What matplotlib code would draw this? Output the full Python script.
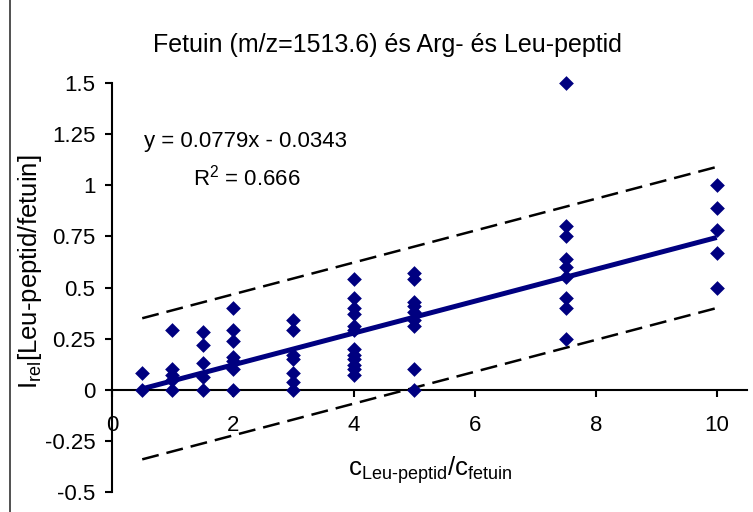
import numpy as np
import matplotlib
matplotlib.use('Agg')
import matplotlib.pyplot as plt
from matplotlib.patches import Rectangle

plt.rcParams['font.family'] = ['Liberation Sans', 'DejaVu Sans']
plt.rcParams['mathtext.fontset'] = 'custom'
plt.rcParams['mathtext.rm'] = 'Liberation Sans'
plt.rcParams['mathtext.it'] = 'Liberation Sans'

conc = [0.5, 1, 1.5, 2, 3, 4, 5, 7.5, 10]
irel = [
    [0.0, 0.08],
    [0.29, 0.10, 0.07, 0.05, 0.0],
    [0.28, 0.22, 0.13, 0.06, 0.0],
    [0.40, 0.29, 0.24, 0.16, 0.14, 0.10, 0.0],
    [0.34, 0.29, 0.17, 0.15, 0.08, 0.04, 0.0],
    [0.54, 0.45, 0.40, 0.37, 0.31, 0.29, 0.20, 0.17, 0.15, 0.12, 0.10, 0.07],
    [0.57, 0.54, 0.43, 0.41, 0.38, 0.34, 0.31, 0.10, 0.0],
    [1.5, 0.80, 0.75, 0.64, 0.60, 0.55, 0.45, 0.40, 0.25],
    [1.0, 0.89, 0.78, 0.67, 0.50],
]

slope = 0.0779
intercept = -0.0343
r2 = 0.666
band = 0.345   # half width of the dashed prediction band

xs = []
ys = []
for c, vals in zip(conc, irel):
    for v in vals:
        xs.append(c)
        ys.append(v)

fig = plt.figure(figsize=(7.53, 5.12), dpi=100)
ax = fig.add_axes([112/753, 1-492/512, (747-112)/753, (492-83)/512])

ax.scatter(xs, ys, marker='D', s=7.5**2, color='#000080', linewidths=0, zorder=3, clip_on=False)

fx = np.array([conc[0], conc[-1]])
fy = slope*fx + intercept
ax.plot(fx, fy, color='#000080', lw=3.6, zorder=2, solid_capstyle='butt')
ax.plot(fx, fy + band, color='black', lw=1.8, dashes=(6.8, 3.2), zorder=2)
ax.plot(fx, fy - band, color='black', lw=1.8, dashes=(6.8, 3.2), zorder=2)

ax.set_xlim(0, 10.5)
ax.set_ylim(-0.5, 1.5)
ax.set_xticks([0, 2, 4, 6, 8, 10])
ax.set_yticks([-0.5, -0.25, 0, 0.25, 0.5, 0.75, 1, 1.25, 1.5])
ax.set_yticklabels(['-0.5', '-0.25', '0', '0.25', '0.5', '0.75', '1', '1.25', '1.5'])

ax.spines['top'].set_visible(False)
ax.spines['right'].set_visible(False)
ax.spines['bottom'].set_position(('data', 0))
ax.spines['left'].set_linewidth(1.5)
ax.spines['bottom'].set_linewidth(1.5)
ax.tick_params(axis='y', direction='out', length=5, width=1.5, labelsize=16, pad=7)
ax.tick_params(axis='x', direction='out', length=5, width=1.5, labelsize=16, pad=13)
ax.patch.set_alpha(0)

ax.text(2.21, 1.212, 'y = %.4fx - %.4f' % (slope, -intercept), ha='center', va='center', fontsize=16)
ax.text(2.23, 1.036, r'R$^2$ = %.3f' % r2, ha='center', va='center', fontsize=16)

fig.text(387/753, 1-45/512, 'Fetuin (m/z=1513.6) és Arg- és Leu-peptid', ha='center', va='center', fontsize=18)
fig.text(430/753, 1-470/512, r'c$_{\mathrm{Leu\text{-}peptid}}$/c$_{\mathrm{fetuin}}$', ha='center', va='center', fontsize=18.5)
fig.text(30/753, 1-272/512, r'I$_{\mathrm{rel}}$[Leu-peptid/fetuin]', ha='center', va='center', rotation=90, fontsize=18.5)

fig.patches.append(Rectangle((10/753, -0.2), 1.2, 1.2 + (1-11/512), transform=fig.transFigure,
                             fill=False, edgecolor='#333333', lw=1.2))

plt.savefig('out.png', dpi=100)
